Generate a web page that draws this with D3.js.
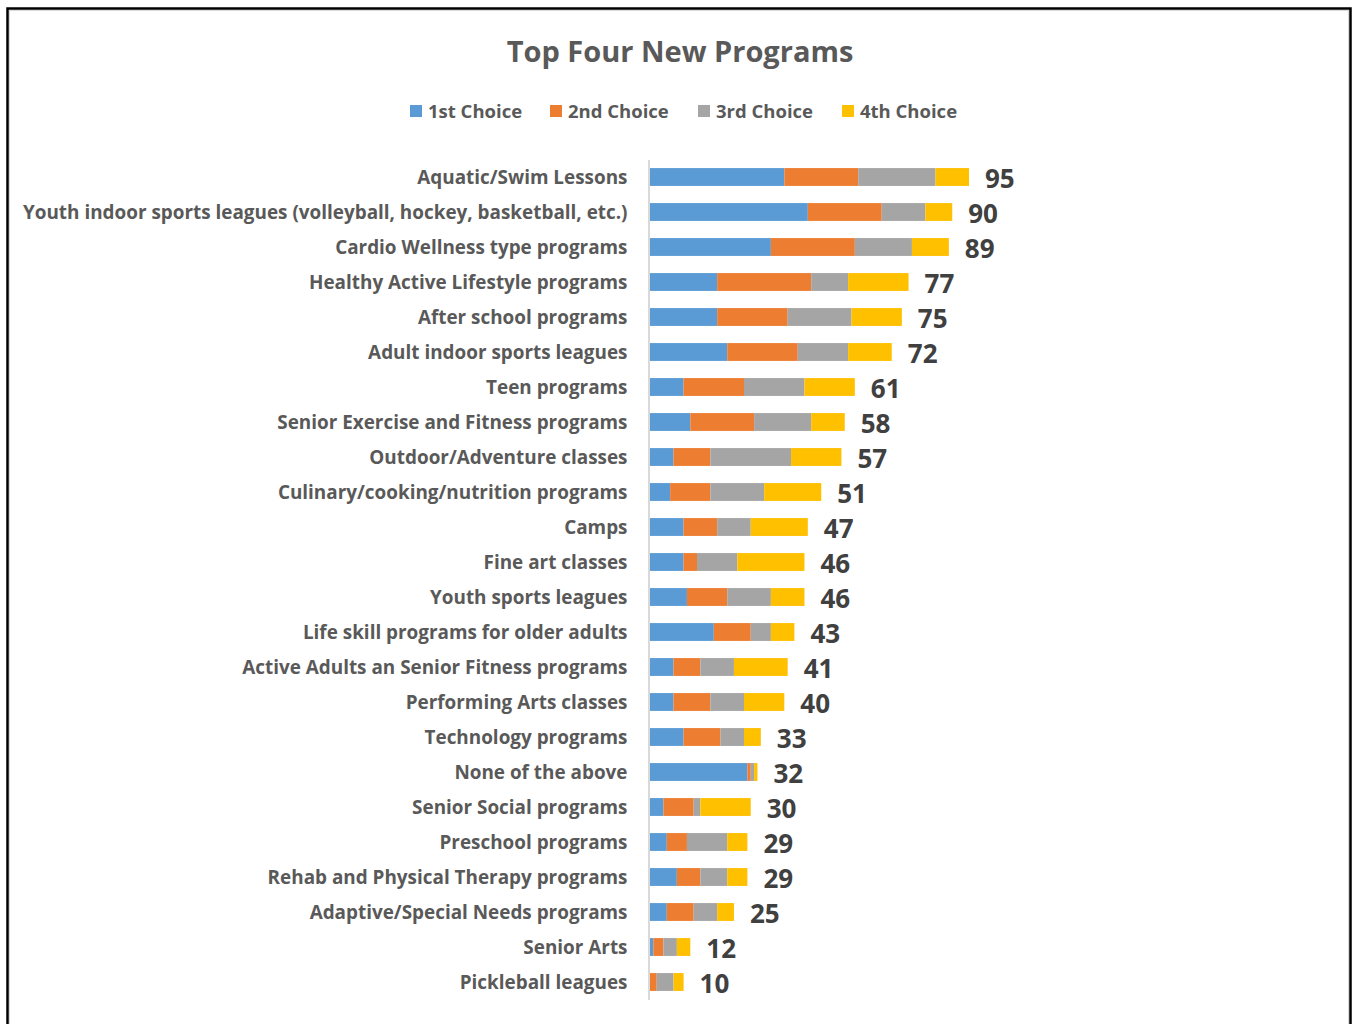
<!DOCTYPE html>
<html>
<head>
<meta charset="utf-8">
<script src="https://cdn.jsdelivr.net/npm/d3@7"></script>
<style>
  html, body { margin: 0; padding: 0; background: #fff; }
  svg { display: block; }
</style>
</head>
<body>
<svg id="chart" width="1354" height="1024"></svg>
<script>
// Program names, top to bottom
const programs = [
  "Aquatic/Swim Lessons",
  "Youth indoor sports leagues (volleyball, hockey, basketball, etc.)",
  "Cardio Wellness type programs",
  "Healthy Active Lifestyle programs",
  "After school programs",
  "Adult indoor sports leagues",
  "Teen programs",
  "Senior Exercise and Fitness programs",
  "Outdoor/Adventure classes",
  "Culinary/cooking/nutrition programs",
  "Camps",
  "Fine art classes",
  "Youth sports leagues",
  "Life skill programs for older adults",
  "Active Adults an Senior Fitness programs",
  "Performing Arts classes",
  "Technology programs",
  "None of the above",
  "Senior Social programs",
  "Preschool programs",
  "Rehab and Physical Therapy programs",
  "Adaptive/Special Needs programs",
  "Senior Arts",
  "Pickleball leagues"
];

// Votes per ranking
const firstChoice  = [40, 47, 36, 20, 20, 23, 10, 12, 7, 6, 10, 10, 11, 19, 7, 7, 10, 29, 4, 5, 8, 5, 1, 0];
const secondChoice = [22, 22, 25, 28, 21, 21, 18, 19, 11, 12, 10, 4, 12, 11, 8, 11, 11, 1, 9, 6, 7, 8, 3, 2];
const thirdChoice  = [23, 13, 17, 11, 19, 15, 18, 17, 24, 16, 10, 12, 13, 6, 10, 10, 7, 1, 2, 12, 8, 7, 4, 5];
const fourthChoice = [10, 8, 11, 18, 15, 13, 15, 10, 15, 17, 17, 20, 10, 7, 16, 12, 5, 1, 15, 6, 6, 5, 4, 3];

const seriesNames = ["1st Choice", "2nd Choice", "3rd Choice", "4th Choice"];
const seriesColors = ["#5B9BD5", "#ED7D31", "#A5A5A5", "#FFC000"];

const rows = programs.map((name, i) => ({
  name,
  "1st Choice": firstChoice[i],
  "2nd Choice": secondChoice[i],
  "3rd Choice": thirdChoice[i],
  "4th Choice": fourthChoice[i]
}));
rows.forEach(r => { r.total = seriesNames.reduce((s, k) => s + r[k], 0); });

const svg = d3.select("#chart");
const FONT = "'Open Sans', Lato, sans-serif";

// Outer frame
svg.append("rect")
  .attr("x", 7.5).attr("y", 8.5)
  .attr("width", 1343).attr("height", 1030)
  .attr("fill", "#fff")
  .attr("stroke", "#000").attr("stroke-width", 2.5);
svg.append("rect")
  .attr("x", 9.5).attr("y", 10.5)
  .attr("width", 1339).attr("height", 1030)
  .attr("fill", "none")
  .attr("stroke", "#d9d9d9").attr("stroke-width", 1);

// Title
svg.append("text")
  .attr("x", 680).attr("y", 62)
  .attr("text-anchor", "middle")
  .attr("font-family", FONT).attr("font-weight", 700)
  .attr("font-size", 29).attr("fill", "#595959")
  .text("Top Four New Programs");

// Scales
const x = d3.scaleLinear().domain([0, 100]).range([650, 650 + 335.8]);
const y = d3.scaleBand().domain(programs).range([159.5, 999.5])
  .paddingInner(0.49).paddingOuter(0.245);
const color = d3.scaleOrdinal().domain(seriesNames).range(seriesColors);

const stacked = d3.stack().keys(seriesNames)(rows);

// Bars
svg.append("g").selectAll("g")
  .data(stacked)
  .join("g")
  .attr("fill", d => color(d.key))
  .selectAll("rect")
  .data(d => d)
  .join("rect")
  .attr("x", d => x(d[0]))
  .attr("y", d => y(d.data.name))
  .attr("width", d => x(d[1]) - x(d[0]))
  .attr("height", y.bandwidth());

// Category axis
const yAxis = svg.append("g")
  .attr("transform", `translate(${x(0) - 1.5},0)`)
  .call(d3.axisLeft(y).tickSize(0).tickPadding(21));
yAxis.select(".domain").attr("stroke", "#d9d9d9").attr("stroke-width", 2);
yAxis.selectAll("text")
  .attr("y", 1)
  .attr("font-family", FONT).attr("font-weight", 700)
  .attr("font-size", 18.9).attr("fill", "#595959");

// Totals
svg.append("g").selectAll("text")
  .data(rows)
  .join("text")
  .attr("x", d => x(d.total) + 16)
  .attr("y", d => y(d.name) + y.bandwidth() / 2 + 1.5)
  .attr("dy", "0.35em")
  .attr("font-family", FONT).attr("font-weight", 700)
  .attr("font-size", 26).attr("fill", "#404040")
  .text(d => d.total);

// Legend
const legendX = [410, 550, 698, 842];
const legend = svg.append("g").selectAll("g")
  .data(seriesNames)
  .join("g")
  .attr("transform", (d, i) => `translate(${legendX[i]},105)`);
legend.append("rect")
  .attr("width", 12).attr("height", 12)
  .attr("fill", d => color(d));
legend.append("text")
  .attr("x", 18).attr("y", 7).attr("dy", "0.35em")
  .attr("font-family", FONT).attr("font-weight", 700)
  .attr("font-size", 18.5).attr("fill", "#595959")
  .text(d => d);
</script>
</body>
</html>
